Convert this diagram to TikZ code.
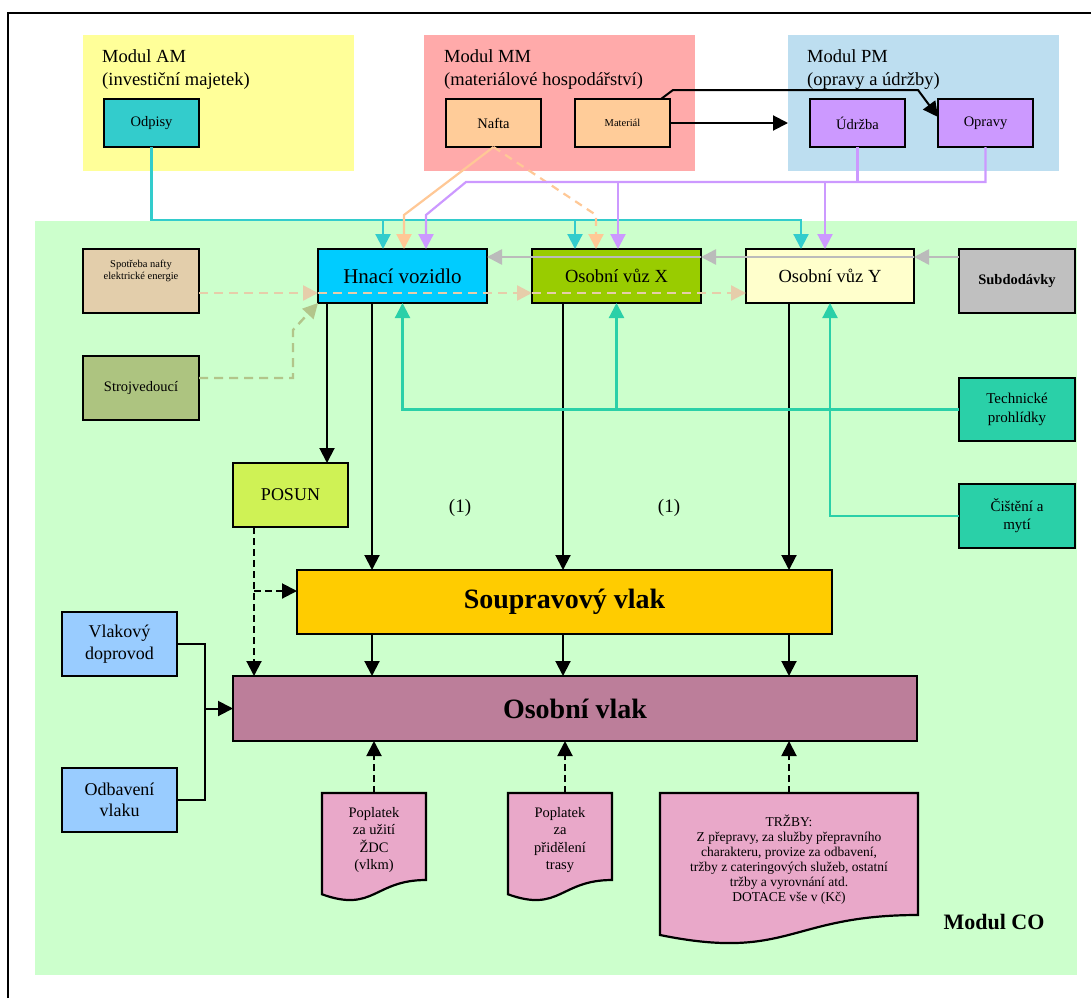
\documentclass[tikz,border=0pt]{standalone}
\usepackage{fontspec}
\setmainfont{Liberation Serif}
\usetikzlibrary{arrows.meta,calc}
\definecolor{cAM}{HTML}{FFFF99}
\definecolor{cMM}{HTML}{FFAAAA}
\definecolor{cPM}{HTML}{BDDEF0}
\definecolor{cCO}{HTML}{CCFFCC}
\definecolor{cOdp}{HTML}{33CCCC}
\definecolor{cNaf}{HTML}{FFCC99}
\definecolor{cPur}{HTML}{CC99FF}
\definecolor{cHna}{HTML}{00CCFF}
\definecolor{cX}{HTML}{99CC00}
\definecolor{cY}{HTML}{FFFFCC}
\definecolor{cSub}{HTML}{C0C0C0}
\definecolor{cSpo}{HTML}{E3CEAB}
\definecolor{cStr}{HTML}{ADC480}
\definecolor{cTec}{HTML}{2AD0A8}
\definecolor{cPos}{HTML}{CFF255}
\definecolor{cSou}{HTML}{FFCC00}
\definecolor{cOV}{HTML}{BC7E9A}
\definecolor{cVla}{HTML}{99CCFF}
\definecolor{cDoc}{HTML}{E9A8C9}
\definecolor{cGray}{HTML}{BBBBBB}
\definecolor{cBeige}{HTML}{E6CDAA}
\definecolor{cOlive}{HTML}{B2C58A}
\definecolor{cOra}{HTML}{FFC896}
\newcommand{\fsz}[2]{\fontsize{#1}{#2}\selectfont}
\begin{document}
\begin{tikzpicture}[x=1pt,y=-1pt,
  box/.style={draw=black,line width=2.2pt,inner sep=0pt,outer sep=0pt,align=center},
  lbl/.style={font=\fsz{18.5}{22},inner sep=0pt},
  arr/.style={-{Triangle[length=15pt,width=15pt]}},
  cteal/.style={draw=cOdp,line width=2.2pt},
  cora/.style={draw=cOra,line width=2.2pt},
  cpur/.style={draw=cPur,line width=2.2pt},
  cblk/.style={draw=black,line width=2pt},
  cgray/.style={draw=cGray,line width=2.6pt},
  cbeige/.style={draw=cBeige,line width=2.4pt,dash pattern=on 9pt off 6pt},
  colive/.style={draw=cOlive,line width=2.4pt,dash pattern=on 9pt off 6pt},
  cgreen/.style={draw=cTec,line width=2.2pt},
  cdash/.style={draw=black,line width=2pt,dash pattern=on 7pt off 4pt},
  docst/.style={draw=black,line width=2.2pt,fill=cDoc},
]
\useasboundingbox (0,0) rectangle (1091,998);
% module areas
\fill[cAM] (83,35) rectangle (354,171);
\fill[cMM] (424,35) rectangle (695,171);
\fill[cPM] (788,35) rectangle (1059,171);
\fill[cCO] (35,221) rectangle (1077,975);
\draw[line width=2pt] (8,998) -- (8,13) -- (1091,13);
% module labels
\node[lbl,anchor=base west] (am1) at (102,63) {Modul AM};
\node[lbl,anchor=base west] (am2) at (102,85) {(investiční majetek)};
\node[lbl,anchor=base west] (mm1) at (444,63) {Modul MM};
\node[lbl,anchor=base west] (mm2) at (444,85) {(materiálové hospodářství)};
\node[lbl,anchor=base west] (pm1) at (807,63) {Modul PM};
\node[lbl,anchor=base west] (pm2) at (807,85) {(opravy a údržby)};
% boxes
\node[box,fill=cOdp,minimum width=95pt,minimum height=48pt,font=\fsz{14.5}{17}] (odp) at (151.5,123) {Odpisy};
\node[box,fill=cNaf,minimum width=95pt,minimum height=48pt,font=\fsz{14.5}{17}] (naf) at (493.5,123) {Nafta};
\node[box,fill=cNaf,minimum width=95pt,minimum height=48pt,font=\fsz{10.5}{12}] (mat) at (622.5,123) {Materiál};
\node[box,fill=cPur,minimum width=95pt,minimum height=48pt,font=\fsz{14.5}{17}] (udr) at (857.5,123) {Údržba};
\node[box,fill=cPur,minimum width=95pt,minimum height=48pt,font=\fsz{14.5}{17}] (opr) at (985.5,123) {Opravy};
\node[box,fill=cHna,minimum width=169pt,minimum height=54pt,font=\fsz{21}{24}] (hna) at (402.5,276) {\raisebox{-3pt}{Hnací vozidlo}};
\node[box,fill=cX,minimum width=169pt,minimum height=54pt,font=\fsz{18.5}{22}] (vx) at (616.5,276) {Osobní vůz X};
\node[box,fill=cY,minimum width=168pt,minimum height=54pt,font=\fsz{18.5}{22}] (vy) at (830,276) {Osobní vůz Y};
\node[box,fill=cSub,minimum width=116pt,minimum height=64pt,font=\fsz{14.5}{17}\bfseries] (sub) at (1017,281) {Subdodávky};
\node[box,fill=cSpo,minimum width=116pt,minimum height=64pt] (spo) at (141,281) {};
\node[font=\fsz{10.5}{12},align=center,inner sep=0pt] (spot) at (141,271) {Spotřeba nafty\\elektrické energie};
\node[box,fill=cStr,minimum width=116pt,minimum height=64pt,font=\fsz{14.5}{17}] (str) at (141,388) {Strojvedoucí};
\node[box,fill=cTec,minimum width=116pt,minimum height=63pt,font=\fsz{15}{19}] (tec) at (1017,409.5) {Technické\\prohlídky};
\node[box,fill=cTec,minimum width=116pt,minimum height=64pt,font=\fsz{15}{18}] (cis) at (1017,516) {Čištění a\\mytí};
\node[box,fill=cPos,minimum width=115pt,minimum height=64pt,font=\fsz{18}{21}] (pos) at (290.5,495) {POSUN};
\node[box,fill=cSou,minimum width=535pt,minimum height=64pt,font=\fsz{28}{32}\bfseries] (sou) at (564.5,602) {Soupravový vlak};
\node[box,fill=cOV,minimum width=684pt,minimum height=65pt,font=\fsz{28}{32}\bfseries] (ov) at (575,708.5) {Osobní vlak};
\node[box,fill=cVla,minimum width=115pt,minimum height=64pt,font=\fsz{18}{21.5}] (vla) at (119.5,644) {Vlakový\\doprovod};
\node[box,fill=cVla,minimum width=115pt,minimum height=64pt,font=\fsz{18}{21.5}] (odb) at (119.5,800) {Odbavení\\vlaku};
% documents
\draw[docst] (322,793) -- (426,793) -- (426,880) .. controls (374,880) and (374,913) .. (322,894.3) -- cycle;
\draw[docst] (508,793) -- (612,793) -- (612,880) .. controls (560,880) and (560,913) .. (508,894.3) -- cycle;
\draw[docst] (660,793) -- (918,793) -- (918,915) .. controls (789,915) and (789,961.3) .. (660,935) -- cycle;
\node[font=\fsz{14.5}{17.5},align=center,inner sep=0pt] (d1t) at (374,840) {Poplatek\\za užití\\ŽDC\\(vlkm)};
\node[font=\fsz{14.5}{17.5},align=center,inner sep=0pt] (d2t) at (560,840) {Poplatek\\za\\přidělení\\trasy};
\node[font=\fsz{13.5}{15}, align=center,inner sep=0pt] (d3t) at (789,860) {TRŽBY:\\Z přepravy, za služby přepravního\\charakteru, provize za odbavení,\\tržby z cateringových služeb, ostatní\\tržby a vyrovnání atd.\\DOTACE vše v (Kč)};
\coordinate (d1) at (374,793);
\coordinate (d2) at (565,793);
\coordinate (d3) at (789,793);
% other texts
\node[font=\fsz{19}{22},inner sep=0pt] (n1) at (460,508) {(1)};
\node[font=\fsz{19}{22},inner sep=0pt] (n2) at (669,508) {(1)};
\node[font=\fsz{22}{26}\bfseries,inner sep=0pt] (co) at (994,922) {Modul CO};
% teal from Odpisy
\coordinate (tA) at ([xshift=-19.5pt]hna.north);
\coordinate (tB) at ([xshift=-41.5pt]vx.north);
\coordinate (tC) at ([xshift=-29pt]vy.north);
\coordinate (tL) at (0,220);
\draw[cteal,arr] (odp.south) |- (tC |- tL) -- (tC);
\draw[cteal,arr] (tA |- tL) -- (tA);
\draw[cteal,arr] (tB |- tL) -- (tB);
% orange from Nafta
\coordinate (oA) at ([xshift=1.5pt]hna.north);
\coordinate (oB) at ([xshift=-20.5pt]vx.north);
\coordinate (oL) at (0,215);
\draw[cora,arr] (naf.south) -- (oA |- oL) -- (oA);
\draw[cora,arr,dash pattern=on 8pt off 6pt] (naf.south) -- (oB |- oL) -- (oB);
% purple from PM
\coordinate (pA) at ([xshift=23.5pt]hna.north);
\coordinate (pB) at ([xshift=1.5pt]vx.north);
\coordinate (pC) at ([xshift=-5pt]vy.north);
\coordinate (pL) at (0,182);
\coordinate (pK) at (466,182);
\draw[cpur] (udr.south) -- (udr.south |- pL);
\draw[cpur,arr] (opr.south) |- (pK) -- (pA |- oL) -- (pA);
\draw[cpur,arr] (pB |- pL) -- (pB);
\draw[cpur,arr] (pC |- pL) -- (pC);
% black from Material
\coordinate (m1) at (673,90);
\coordinate (m2) at (918,90);
\draw[cblk,arr] (mat.east) -- ([xshift=-22pt]udr.west);
\draw[cblk,arr] ([xshift=38.5pt]mat.north) -- (m1) -- (m2) -- ([yshift=-18pt]opr.north west);
% gray from Subdodavky
\draw[cgray,arr] ([yshift=-8pt]sub.north west) -- ([yshift=-8pt]vy.north east);
\draw[cgray,arr] ([yshift=-8pt]vy.north east) -- ([yshift=-8pt]vx.north east);
\draw[cgray,arr] ([yshift=-8pt]vx.north east) -- ([yshift=-8pt]hna.north east);
% beige dashed
\draw[cbeige,arr] ([yshift=-12pt]spo.east) -- ([yshift=-17pt]hna.west);
\draw[cbeige,arr] ([yshift=-17pt]hna.west) -- ([yshift=-17pt]vx.west);
\draw[cbeige,arr] ([yshift=-17pt]vx.west) -- ([yshift=-17pt]vy.west);
% olive dashed
\coordinate (ob) at ([xshift=-25pt,yshift=-27pt]hna.south west);
\draw[colive,arr] ([yshift=10pt]str.east) -| (ob) -- (hna.south west);
% black downward
\coordinate (h1) at ([xshift=-75.5pt]hna.south);
\coordinate (h2) at ([xshift=-30.5pt]hna.south);
\coordinate (x2) at ([xshift=-53.5pt]vx.south);
\coordinate (y2) at ([xshift=-41pt]vy.south);
\draw[cblk,arr] (h1) -- (h1 |- pos.north);
\draw[cblk,arr] (h2) -- (h2 |- sou.north);
\draw[cblk,arr] (x2) -- (x2 |- sou.north);
\draw[cblk,arr] (y2) -- (y2 |- sou.north);
\draw[cblk,arr] (h2 |- sou.south) -- (h2 |- ov.north);
\draw[cblk,arr] (x2 |- sou.south) -- (x2 |- ov.north);
\draw[cblk,arr] (y2 |- sou.south) -- (y2 |- ov.north);
% green from Technicke / Cisteni
\draw[cgreen,arr] (tec.west) -| (hna.south);
\draw[cgreen,arr] (vx.south |- tec.west) -- (vx.south);
\draw[cgreen,arr] (cis.west) -| (vy.south);
% POSUN dashed
\coordinate (ps) at ([xshift=-36.5pt]pos.south);
\coordinate (pb) at ([yshift=11pt]sou.west);
\draw[cdash,arr] (ps) -- (ps |- ov.north);
\draw[cdash,arr] (ps |- pb) -- (pb);
% Vlakovy doprovod / Odbaveni
\coordinate (jn) at ([xshift=-28pt]ov.west);
\draw[cblk] (vla.east) -| (jn) |- (odb.east);
\draw[cblk,arr] (jn) -- (ov.west);
% documents to Osobni vlak
\draw[cdash,arr] (d1) -- (d1 |- ov.south);
\draw[cdash,arr] (d2) -- (d2 |- ov.south);
\draw[cdash,arr] (d3) -- (d3 |- ov.south);
\end{tikzpicture}
\end{document}
